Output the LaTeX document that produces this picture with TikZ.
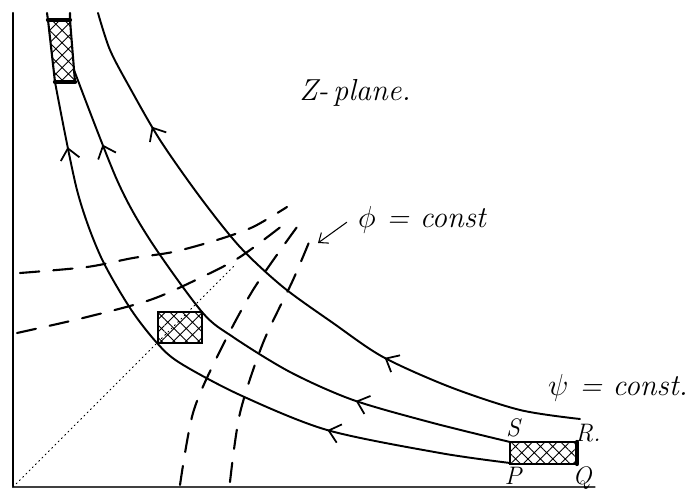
\documentclass[tikz,border=0pt]{standalone}
\usepackage{tikz}
\usetikzlibrary{arrows.meta,positioning,decorations.markings,patterns.meta}

\begin{document}
\begin{tikzpicture}[x=0.02cm, y=0.02cm, font=\LARGE\itshape, line cap=round,
  flowtip/.tip={Straight Barb[length=2.2mm,width=3.8mm,line width=1pt]},
  streamline/.style 2 args={line width=1.1pt, postaction={decorate},
    decoration={markings, mark=at position #1 with {\arrow{flowtip}},
      mark=at position #2 with {\arrow{flowtip}}}},
  equipot/.style={line width=1.2pt, dash pattern=on 11pt off 8pt},
  element/.style={line width=1.2pt, pattern={Hatch[angle=45,distance=5pt,line width=0.5pt]}},
  corner/.style={font=\Large\itshape}]
\useasboundingbox (0,0) rectangle (690,490);
% axes and the line y = x
\coordinate (O) at (13,3);
\draw[line width=1.3pt] (13,477) -- (O);
\draw[line width=0.7pt, black!75] (O) -- (595,3);
\draw[dotted, line width=0.6pt] (O) -- (235,225);
% equipotentials phi = const
\draw[equipot] plot[smooth] coordinates {(20,217) (87,223) (133,232) (173,238) (217,250) (253,263) (287,283)};
\draw[equipot] plot[smooth] coordinates {(17,157) (83,172) (150,190) (200,212) (240,233) (287,268)};
\draw[equipot] plot[smooth] coordinates {(180,5) (193,77) (217,133) (253,200) (297,263)};
\draw[equipot] plot[smooth] coordinates {(230,8) (240,77) (263,147) (293,210) (312,255)};
% streamlines psi = const
\draw[streamline={0.28}{0.90}] plot[smooth] coordinates {(510,27) (440,37) (327,60) (240,95) (180,127) (157,147) (130,182) (100,235) (77,300) (55,408)};
\draw[streamline={0.26}{0.87}] plot[smooth] coordinates {(510,48) (433,67) (353,90) (290,118) (233,153) (202,178) (150,250) (117,310) (74,420)};
\draw[streamline={0.31}{0.81}] plot[smooth] coordinates {(580,71) (520,80) (450,103) (383,133) (333,167) (283,203) (240,243) (200,293) (160,350) (130,402) (110,440) (98,477)};
% fluid elements
\draw[element] (48,470) -- (70,470) -- (75,408) -- (55,408) -- cycle;
\draw[line width=2.4pt] (48,470) -- (70,470) (55,408) -- (75,408);
\draw[line width=1.2pt] (48,470) -- (47,477) (70,470) -- (70,477);
\draw[element] (158,147) rectangle (202,178);
\draw[element] (510,26) rectangle (577,48);
\draw[line width=2.4pt] (577,26) -- (577,48);
% labels
\node (zplane) at (355,397) {Z-\,plane.};
\node (phi) at (422,270) {$\phi$ = const};
\coordinate (phitip) at (318,247);
\draw[line width=0.6pt, -{Straight Barb[length=1.6mm,width=2.6mm]}] ([xshift=-3pt,yshift=3pt]phi.base west) -- (phitip);
\node (psi) at (618,102) {$\psi$ = const.};
\node[corner] (S) at (513,62) {S};
\node[corner] (R) at (588,57) {R.};
\node[corner] (P) at (513,14) {P};
\node[corner] (Q) at (582,12) {Q};
\end{tikzpicture}
\end{document}
